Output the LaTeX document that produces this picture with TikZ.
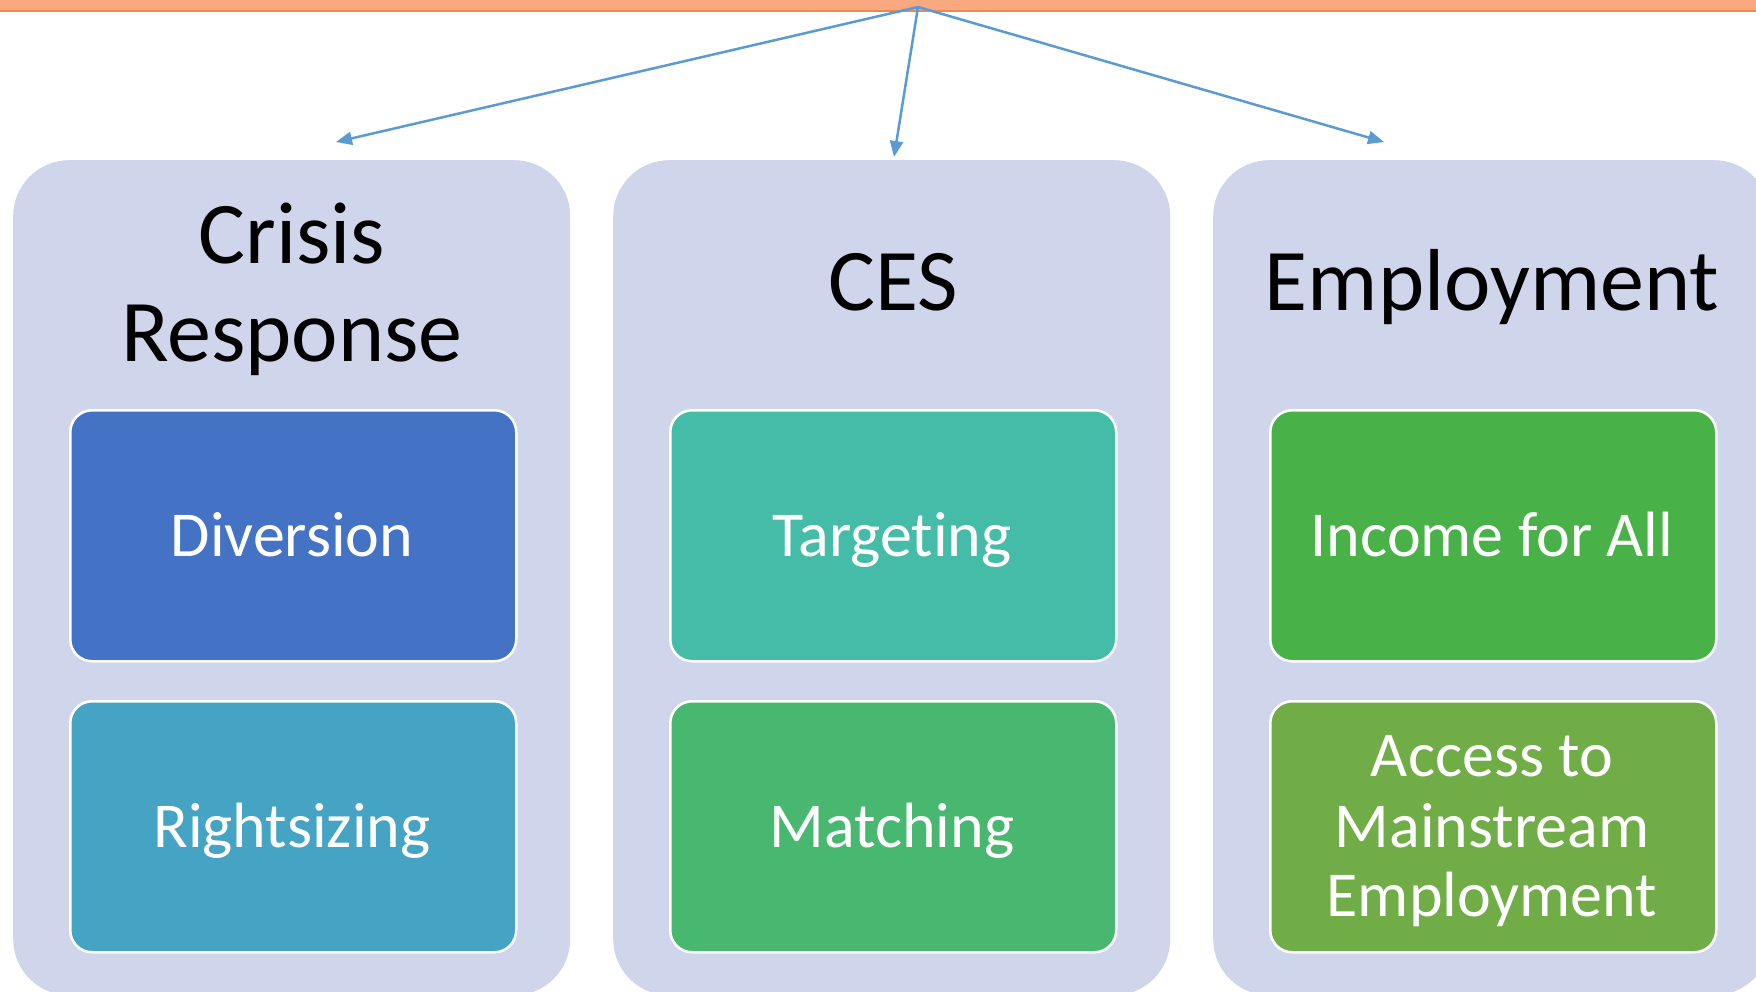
\documentclass[tikz,border=0pt]{standalone}
\usepackage{fontspec}
\setmainfont{Carlito}[Ligatures=NoCommon]
\usetikzlibrary{arrows.meta}
\definecolor{band}{HTML}{F9A880}
\definecolor{bandline}{HTML}{F08A4B}
\definecolor{outer}{HTML}{CFD5EA}
\definecolor{arrowc}{HTML}{5B9BD5}
\definecolor{cdiv}{HTML}{4472C4}
\definecolor{crig}{HTML}{45A3C3}
\definecolor{ctar}{HTML}{45BCA7}
\definecolor{cmat}{HTML}{48B871}
\definecolor{cinc}{HTML}{48B147}
\definecolor{cacc}{HTML}{70AD47}
\tikzset{
  outerbox/.style={fill=outer, draw=none, rounded corners=56pt, minimum width=557pt, minimum height=835pt, inner sep=0pt, anchor=north west},
  innerbox/.style={draw=white, line width=2.5pt, rounded corners=22pt, minimum width=446pt, minimum height=251pt, inner sep=0pt, anchor=north west},
  titletext/.style={font=\fontsize{88}{97}\selectfont, text=black, anchor=base, inner sep=0pt},
  innertext/.style={font=\fontsize{64}{70}\selectfont, text=white, anchor=base, inner sep=0pt},
  conn/.style={draw=arrowc, line width=2.5pt, -{Triangle[length=16pt,width=13pt]}}
}
\begin{document}
\begin{tikzpicture}[x=1pt,y=-1pt]
\useasboundingbox (0,0) rectangle (1756,991);
\fill[white] (0,0) rectangle (1756,991);
% top band
\fill[band] (0,-2) rectangle (1756,11);
\draw[bandline, line width=2pt] (0,11) -- (1756,11);
% outer boxes
\node[outerbox] (crisis) at (13,160) {};
\node[outerbox] (ces) at (613,160) {};
\node[outerbox] (emp) at (1213,160) {};
% titles
\node[titletext] (t1a) at (292,263) {Crisis};
\node[titletext] (t1b) at (292,361) {Response};
\node[titletext] (t2) at (893,310) {CES};
\node[titletext] (t3) at (1492,310) {Employment};
% inner boxes
\node[innerbox, fill=cdiv] (div) at (69,409) {};
\node[innerbox, fill=crig] (rig) at (69,700) {};
\node[innerbox, fill=ctar] (tar) at (669,409) {};
\node[innerbox, fill=cmat] (mat) at (669,700) {};
\node[innerbox, fill=cinc] (inc) at (1269,409) {};
\node[innerbox, fill=cacc] (acc) at (1269,700) {};
% inner texts
\node[innertext] (divt) at (292,556) {Diversion};
\node[innertext] (rigt) at (292,847) {Rightsizing};
\node[innertext] (tart) at (892,556) {Targeting};
\node[innertext] (matt) at (892,847) {Matching};
\node[innertext] (inct) at (1492,556) {Income for All};
\node[innertext] (acct1) at (1492,776) {Access to};
\node[innertext] (acct2) at (1492,847) {Mainstream};
\node[innertext] (acct3) at (1492,916) {Employment};
% connectors
\coordinate (apex) at (918,7);
\coordinate (tipL) at (336,142);
\coordinate (tipM) at (894,157);
\coordinate (tipR) at (1384,142);
\draw[conn] (apex) -- (tipL);
\draw[conn] (apex) -- (tipM);
\draw[conn] (apex) -- (tipR);
\end{tikzpicture}
\end{document}
